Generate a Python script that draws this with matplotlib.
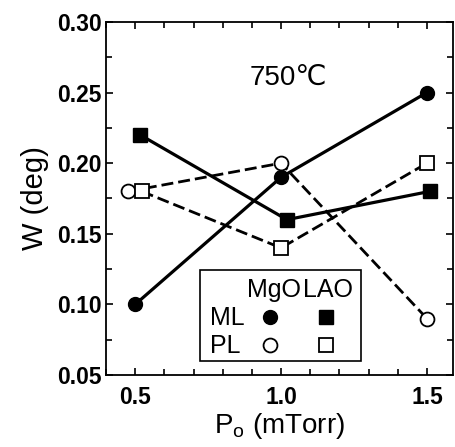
import matplotlib
matplotlib.use("Agg")
import matplotlib.pyplot as plt
from matplotlib.ticker import MultipleLocator, FormatStrFormatter
from matplotlib.patches import Rectangle

plt.rcParams['font.family'] = ['Liberation Sans', 'DejaVu Sans']

# Data
ml_mgo_x = [0.5, 1.0, 1.5]
ml_mgo_y = [0.10, 0.19, 0.25]
ml_lao_x = [0.517, 1.02, 1.51]
ml_lao_y = [0.22, 0.16, 0.18]
pl_mgo_x = [0.476, 1.0, 1.5]
pl_mgo_y = [0.18, 0.20, 0.09]
pl_lao_x = [0.523, 1.0, 1.5]
pl_lao_y = [0.18, 0.14, 0.20]

xticks = [0.5, 1.0, 1.5]
yticks = [0.05, 0.10, 0.15, 0.20, 0.25, 0.30]

fig = plt.figure(figsize=(4.55, 4.47), dpi=100)
ax = fig.add_axes([0.233, 0.161, 0.763, 0.790])

ms = 10
ax.plot(ml_mgo_x, ml_mgo_y, '-', color='black', lw=2.3, marker='o', ms=ms,
        mfc='black', mec='black', zorder=3)
ax.plot(ml_lao_x, ml_lao_y, '-', color='black', lw=2.3, marker='s', ms=ms,
        mfc='black', mec='black', zorder=3)
ax.plot(pl_mgo_x, pl_mgo_y, '--', color='black', lw=2.0, marker='o', ms=ms,
        mfc='white', mec='black', mew=1.3, dashes=(4.3, 1.8), zorder=4)
ax.plot(pl_lao_x, pl_lao_y, '--', color='black', lw=2.0, marker='s', ms=ms,
        mfc='white', mec='black', mew=1.3, dashes=(4.3, 1.8), zorder=4)

ax.set_xlim(0.40, 1.59)
ax.set_ylim(0.05, 0.30)
ax.set_xticks(xticks)
ax.set_yticks(yticks)
ax.xaxis.set_minor_locator(MultipleLocator(0.1))
ax.yaxis.set_minor_locator(MultipleLocator(0.025))
ax.xaxis.set_major_formatter(FormatStrFormatter('%.1f'))
ax.yaxis.set_major_formatter(FormatStrFormatter('%.2f'))
ax.tick_params(which='both', direction='in', top=True, right=True, width=1.2)
ax.tick_params(which='major', length=5, labelsize=16.5)
ax.tick_params(axis='y', which='major', pad=3)
ax.tick_params(axis='x', which='major', pad=8)
ax.tick_params(which='minor', length=4)
for lab in ax.get_xticklabels() + ax.get_yticklabels():
    lab.set_fontweight('bold')
for sp in ax.spines.values():
    sp.set_linewidth(1.3)

ax.set_xlabel('P$_\\mathregular{o}$ (mTorr)', fontsize=20, labelpad=1)
ax.set_ylabel('W (deg)', fontsize=21, labelpad=6)

ax.text(0.525, 0.841, '750\u2103', transform=ax.transAxes, fontsize=20,
        ha='center', va='center')

# Custom legend box
ax.add_patch(Rectangle((0.271, 0.040), 0.464, 0.257, transform=ax.transAxes,
                       fill=True, facecolor='white', edgecolor='black', lw=1.2, zorder=5))
tkw = dict(transform=ax.transAxes, fontsize=18, va='center', zorder=6)
ax.text(0.483, 0.241, 'MgO', ha='center', **tkw)
ax.text(0.640, 0.241, 'LAO', ha='center', **tkw)
ax.text(0.300, 0.162, 'ML', ha='left', **tkw)
ax.text(0.300, 0.083, 'PL', ha='left', **tkw)
mkw = dict(transform=ax.transAxes, ms=ms, mec='black', zorder=6, clip_on=False, ls='none')
ax.plot([0.473], [0.164], marker='o', mfc='black', **mkw)
ax.plot([0.633], [0.164], marker='s', mfc='black', **mkw)
ax.plot([0.473], [0.085], marker='o', mfc='white', mew=1.3, **mkw)
ax.plot([0.633], [0.085], marker='s', mfc='white', mew=1.3, **mkw)

fig.savefig('out.png', dpi=100)
